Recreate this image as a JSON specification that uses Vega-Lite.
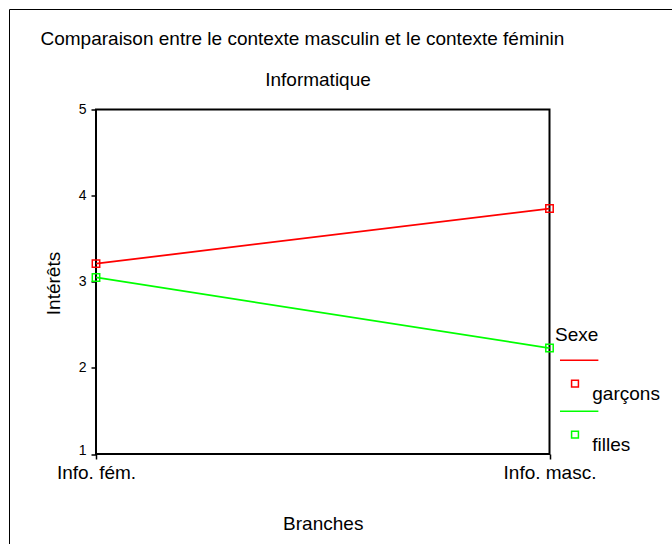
{
  "$schema": "https://vega.github.io/schema/vega-lite/v6.json",
  "autosize": "none",
  "padding": {"left": 96, "top": 109.5, "right": 122.5, "bottom": 90},
  "width": 453.5,
  "height": 344.5,
  "background": "white",
  "config": {
    "font": "Liberation Sans",
    "view": {"stroke": "black", "strokeWidth": 2},
    "axis": {
      "labelFont": "Liberation Sans",
      "titleFont": "Liberation Sans",
      "labelColor": "black",
      "titleColor": "black",
      "titleFontWeight": "normal",
      "titleFontSize": 19,
      "tickColor": "black",
      "domain": false,
      "grid": false
    },
    "legend": {
      "labelFont": "Liberation Sans",
      "titleFont": "Liberation Sans"
    }
  },
  "data": {
    "values": [
      {"Branche": "Info. fém.", "Sexe": "garçons", "Interets": 3.21},
      {"Branche": "Info. masc.", "Sexe": "garçons", "Interets": 3.85},
      {"Branche": "Info. fém.", "Sexe": "filles", "Interets": 3.05},
      {"Branche": "Info. masc.", "Sexe": "filles", "Interets": 2.23}
    ]
  },
  "resolve": {"axis": {"x": "independent", "y": "independent"}},
  "layer": [
    {
      "mark": {"type": "line", "strokeWidth": 1.8},
      "encoding": {
        "x": {
          "field": "Branche", "type": "ordinal",
          "sort": ["Info. fém.", "Info. masc."],
          "scale": {"type": "point", "padding": 0},
          "axis": {
            "orient": "bottom", "title": "Branches", "labelAngle": 0,
            "labelFontSize": 19, "labelPadding": 4, "tickSize": 5, "tickWidth": 1.5,
            "labelFlush": false,
            "titleX": 226.75, "titleY": 75, "titleBaseline": "alphabetic", "titleAlign": "center"
          }
        },
        "y": {
          "field": "Interets", "type": "quantitative",
          "scale": {"domain": [1, 5], "nice": false, "zero": false},
          "axis": {
            "orient": "left", "title": "Intérêts", "values": [1, 2, 3, 4, 5],
            "labelFontSize": 14, "tickSize": 5, "tickWidth": 1.5, "labelPadding": 5,
            "labelBaseline": {"condition": {"test": "datum.value === 1", "value": "alphabetic"}, "value": "middle"},
            "titleAngle": 270, "titleX": -37, "titleY": 173.5, "titleBaseline": "alphabetic", "titleAlign": "center"
          }
        },
        "color": {
          "field": "Sexe", "type": "nominal",
          "scale": {"domain": ["garçons", "filles"], "range": ["#ff0000", "#00ff00"]},
          "legend": {
            "title": "Sexe", "orient": "none", "legendX": 459, "legendY": 216.8, "padding": 0,
            "titleFontSize": 19, "titleFontWeight": "normal", "titleColor": "black", "titlePadding": 29,
            "labelFontSize": 19, "labelColor": "black", "labelOffset": -2.7,
            "symbolType": "M-0.79,-1.79L1.23,-1.79M-0.18,-0.74L0.18,-0.74L0.18,-0.38L-0.18,-0.38Z",
            "symbolSize": 1444, "symbolStrokeWidth": 1.5, "rowPadding": 3,
            "encode": {"symbols": {"update": {"fill": {"value": "transparent"}, "strokeWidth": {"value": 1.5}}}}
          }
        }
      }
    },
    {
      "mark": {"type": "point", "shape": "square", "filled": false, "size": 55, "strokeWidth": 1.5},
      "encoding": {
        "x": {
          "field": "Branche", "type": "ordinal",
          "sort": ["Info. fém.", "Info. masc."],
          "scale": {"type": "point", "padding": 0},
          "axis": {
            "orient": "top", "title": "Informatique", "labels": false, "ticks": false, "domain": false,
            "titleX": 221.5, "titleY": -24.5, "titleBaseline": "alphabetic", "titleAlign": "center"
          }
        },
        "y": {
          "field": "Interets", "type": "quantitative",
          "scale": {"domain": [1, 5], "nice": false, "zero": false},
          "axis": {
            "orient": "right", "title": "Comparaison entre le contexte masculin et le contexte féminin",
            "labels": false, "ticks": false, "domain": false,
            "titleAngle": 0, "titleX": -509.5, "titleY": -65.2, "titleAlign": "left", "titleBaseline": "alphabetic"
          }
        },
        "color": {
          "field": "Sexe", "type": "nominal",
          "scale": {"domain": ["garçons", "filles"], "range": ["#ff0000", "#00ff00"]},
          "legend": {
            "title": "Sexe", "orient": "none", "legendX": 459, "legendY": 216.8, "padding": 0,
            "titleFontSize": 19, "titleFontWeight": "normal", "titleColor": "black", "titlePadding": 29,
            "labelFontSize": 19, "labelColor": "black", "labelOffset": -2.7,
            "symbolType": "M-0.79,-1.79L1.23,-1.79M-0.18,-0.74L0.18,-0.74L0.18,-0.38L-0.18,-0.38Z",
            "symbolSize": 1444, "symbolStrokeWidth": 1.5, "rowPadding": 3,
            "encode": {"symbols": {"update": {"fill": {"value": "transparent"}, "strokeWidth": {"value": 1.5}}}}
          }
        },
        "opacity": {
          "field": "Branche", "type": "ordinal",
          "scale": {"range": [1, 1]},
          "legend": {
            "title": null, "orient": "none", "legendX": -87, "legendY": -100.5, "padding": 360,
            "strokeColor": "black", "symbolType": "M0,0", "symbolStrokeColor": "transparent", "symbolFillColor": "transparent",
            "symbolOpacity": 0, "labelOpacity": 0, "symbolSize": 10, "labelFontSize": 2,
            "encode": {
              "legend": {"update": {"strokeWidth": {"value": 2}, "fill": {"value": "transparent"}}},
              "symbols": {"update": {"opacity": {"value": 0}, "fillOpacity": {"value": 0}, "strokeOpacity": {"value": 0}, "stroke": {"value": "transparent"}, "fill": {"value": "transparent"}}},
              "labels": {"update": {"opacity": {"value": 0}}}
            }
          }
        }
      }
    }
  ]
}
